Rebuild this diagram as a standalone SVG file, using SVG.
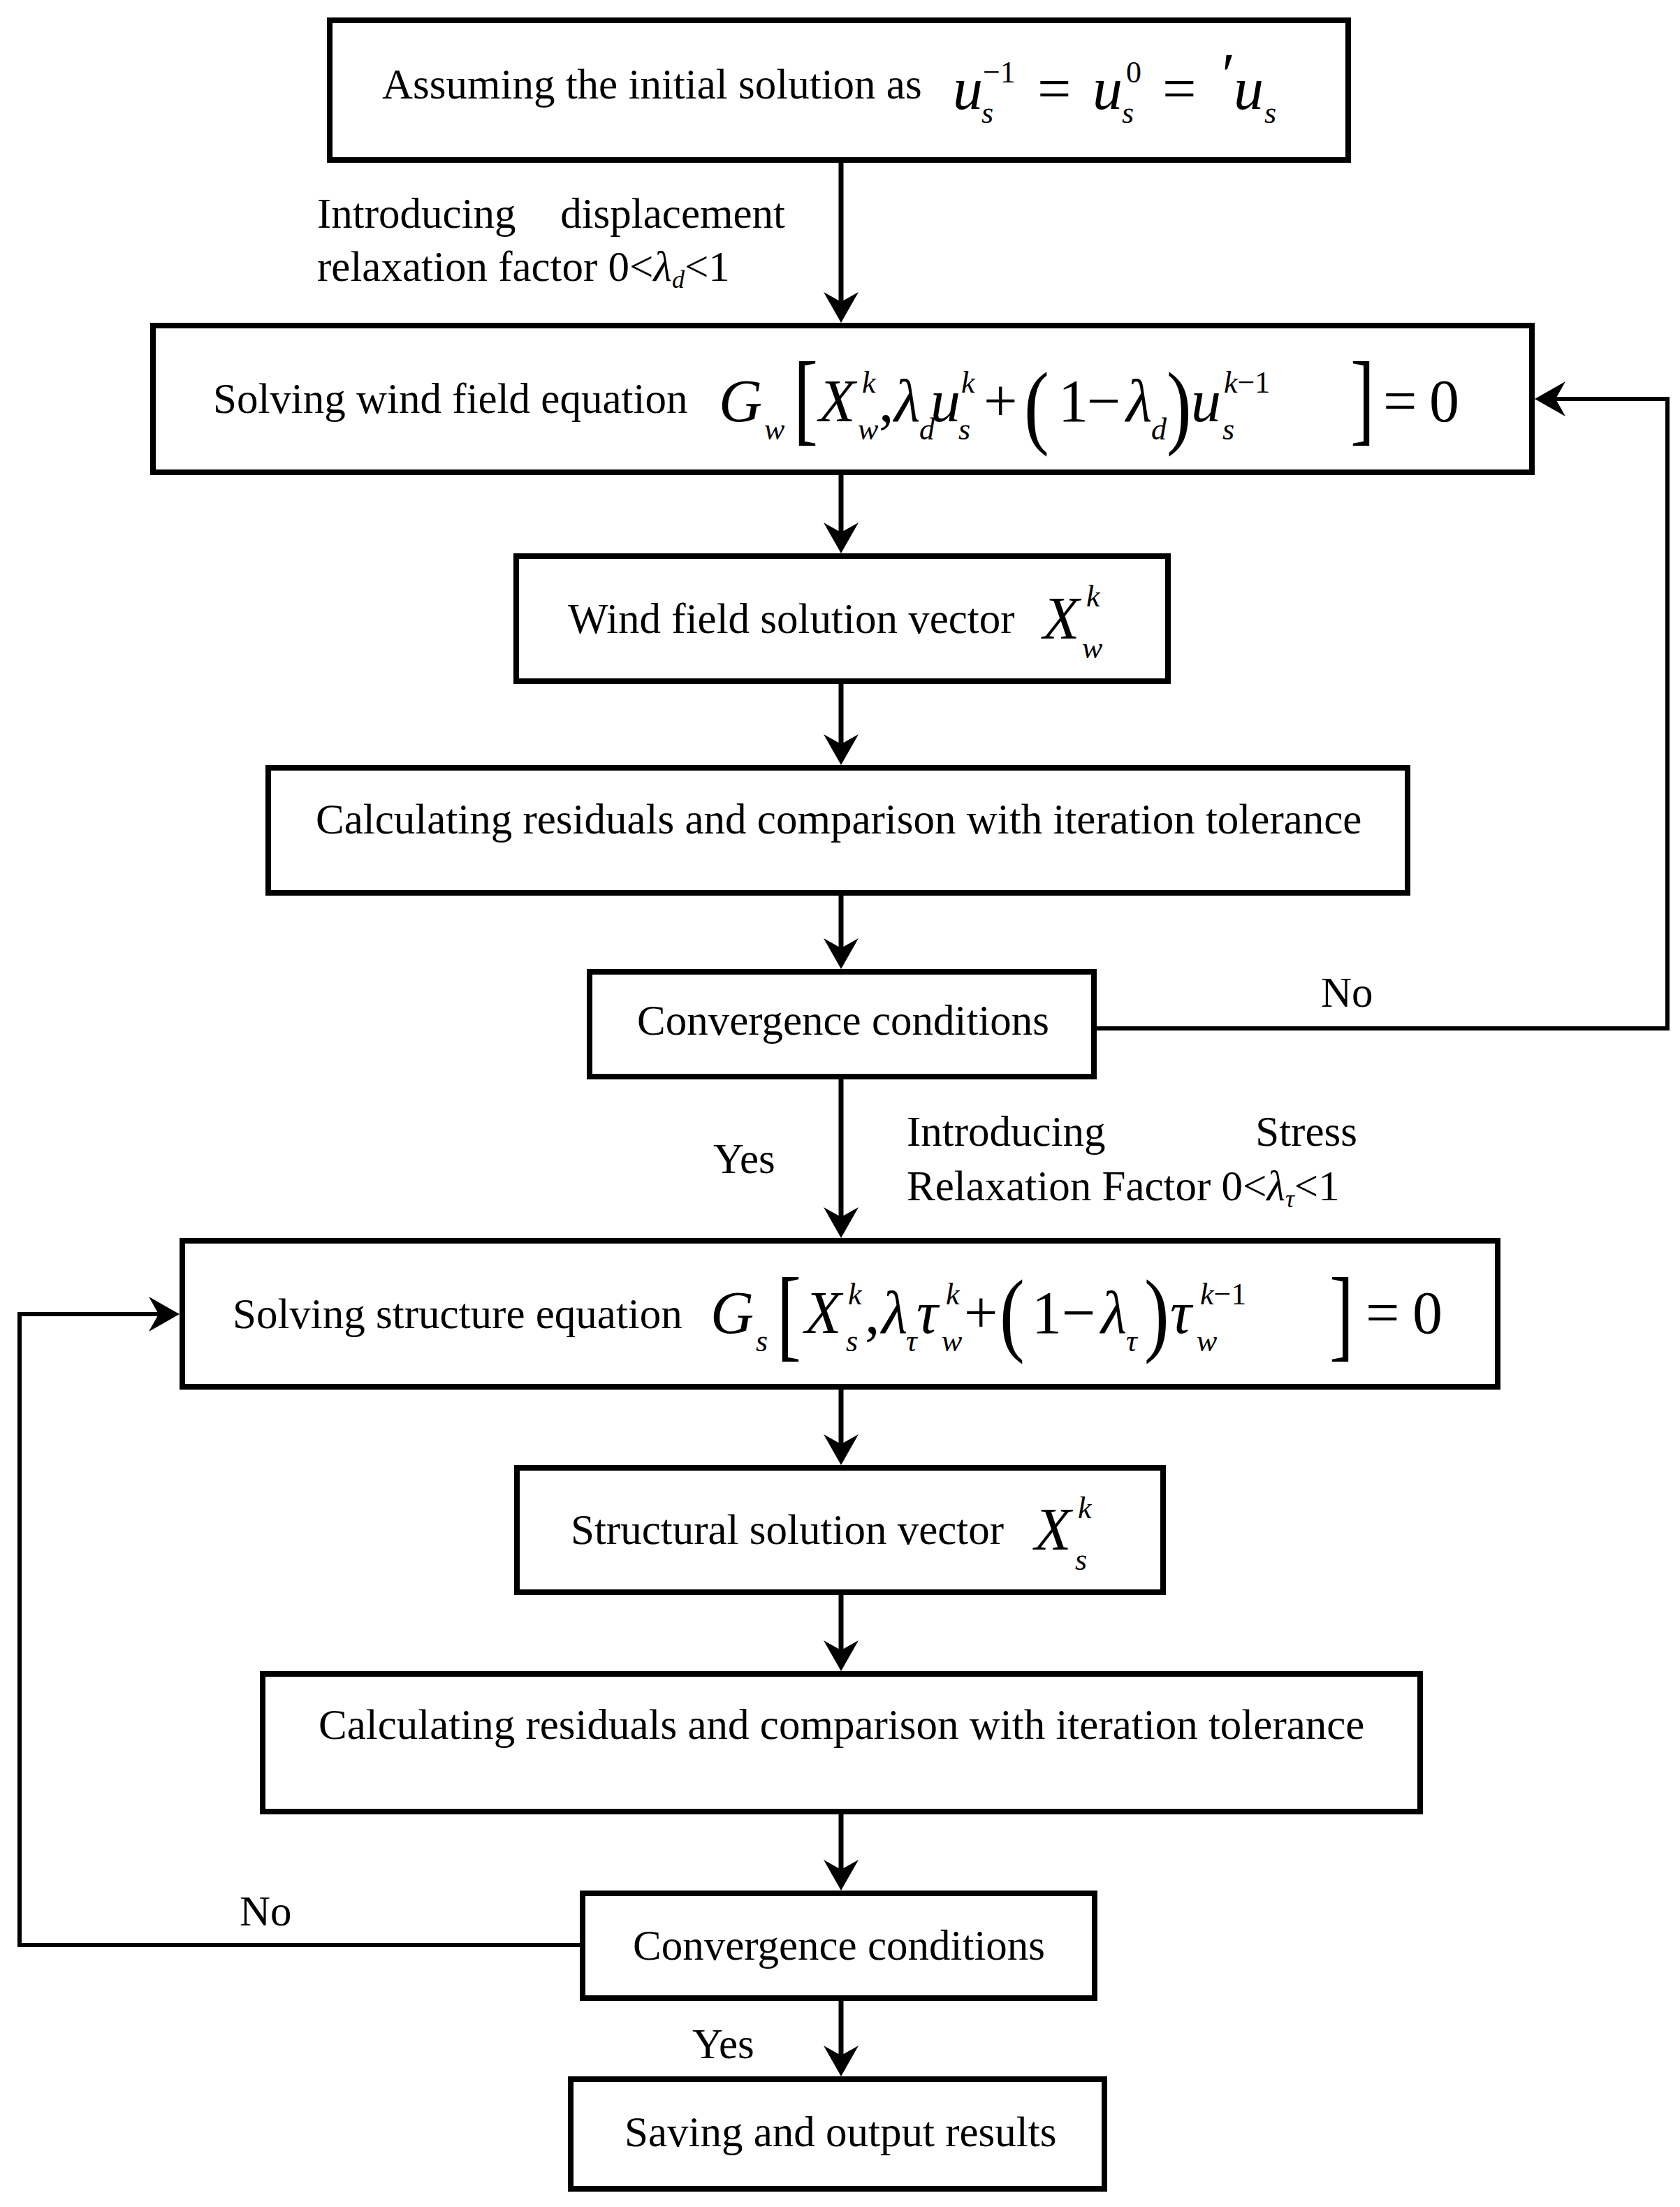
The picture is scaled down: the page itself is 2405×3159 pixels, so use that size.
<svg xmlns="http://www.w3.org/2000/svg" width="2405" height="3159" viewBox="0 0 2405 3159">
<style>
.box{fill:#fff;stroke:#000;stroke-width:8}
.t{font-family:"Liberation Serif","Times New Roman",serif;font-size:61px;fill:#000}
.m{font-family:"Liberation Serif","Times New Roman",serif;font-size:86px;font-style:italic;fill:#000}
.mu{font-family:"Liberation Serif","Times New Roman",serif;font-size:86px;fill:#000}
.s{font-family:"Liberation Serif","Times New Roman",serif;font-size:44px;font-style:italic;fill:#000}
.su{font-family:"Liberation Serif","Times New Roman",serif;font-size:44px;fill:#000}
.br{font-family:"Liberation Serif","Times New Roman",serif;font-size:146px;fill:#000}
.pa{font-family:"Liberation Serif","Times New Roman",serif;font-size:134px;fill:#000}
.ln{fill:none;stroke:#000;stroke-width:7}
.lp{fill:none;stroke:#000;stroke-width:6}
</style>
<defs>
<marker id="ah" markerUnits="userSpaceOnUse" markerWidth="60" markerHeight="60" viewBox="-30 -30 60 60" refX="0" refY="0" orient="auto" overflow="visible">
<path d="M20,0 L-24,-25 L-10,0 L-24,25 Z" fill="#000"/>
</marker>
</defs>

<g id="connectors">
<path class="ln" d="M1204,232 V442" marker-end="url(#ah)"/>
<path class="ln" d="M1204,680 V772" marker-end="url(#ah)"/>
<path class="ln" d="M1204,979 V1075" marker-end="url(#ah)"/>
<path class="ln" d="M1204,1282 V1367" marker-end="url(#ah)"/>
<path class="ln" d="M1204,1545 V1752" marker-end="url(#ah)"/>
<path class="ln" d="M1204,1989 V2077" marker-end="url(#ah)"/>
<path class="ln" d="M1204,2283 V2372" marker-end="url(#ah)"/>
<path class="ln" d="M1204,2597 V2686" marker-end="url(#ah)"/>
<path class="ln" d="M1204,2864 V2952" marker-end="url(#ah)"/>
<path class="lp" d="M1570,1472 H2387 V571 H2217" marker-end="url(#ah)"/>
<path class="lp" d="M830,2784 H28 V1881 H237" marker-end="url(#ah)"/>
<text class="t" x="454" y="326">Introducing</text>
<text class="t" x="1124" y="326" text-anchor="end">displacement</text>
<text class="t" x="454" y="402">relaxation factor 0&lt;<tspan font-style="italic">λ</tspan><tspan font-style="italic" font-size="36" dy="10">d</tspan><tspan dy="-10">&lt;1</tspan></text>
<text class="t" x="1891" y="1441">No</text>
<text class="t" x="1021" y="1679">Yes</text>
<text class="t" x="1298" y="1640">Introducing</text>
<text class="t" x="1943" y="1640" text-anchor="end">Stress</text>
<text class="t" x="1298" y="1718">Relaxation Factor 0&lt;<tspan font-style="italic">λ</tspan><tspan font-style="italic" font-size="36" dy="10">τ</tspan><tspan dy="-10">&lt;1</tspan></text>
<text class="t" x="343" y="2756">No</text>
<text class="t" x="991" y="2946">Yes</text>
</g>

<g id="n1">
<rect class="box" x="472" y="29" width="1458" height="200"/>
<text class="t" x="547" y="141">Assuming the initial solution as</text>
<text class="m" x="1364" y="156" font-size="82">u</text>
<text class="su" x="1407" y="118" font-size="42">−1</text>
<text class="s" x="1405" y="176" font-size="38">s</text>
<text class="mu" x="1485" y="156" font-size="80">=</text>
<text class="m" x="1564" y="156" font-size="82">u</text>
<text class="su" x="1612" y="118" font-size="42">0</text>
<text class="s" x="1606" y="176" font-size="38">s</text>
<text class="mu" x="1664" y="156" font-size="80">=</text>
<text class="m" x="1744" y="136" font-size="60">′</text>
<text class="m" x="1766" y="156" font-size="82">u</text>
<text class="s" x="1810" y="176" font-size="38">s</text>
</g>

<g id="n2">
<rect class="box" x="219" y="466" width="1974" height="210"/>
<text class="t" x="305" y="591">Solving wind field equation</text>
<text class="m" x="1029" y="603">G</text>
<text class="s" x="1094" y="629">w</text>
<text class="br" transform="translate(1136,618) scale(0.72,1)">[</text>
<text class="m" x="1172" y="603">X</text>
<text class="s" x="1234" y="562">k</text>
<text class="s" x="1228" y="629">w</text>
<text class="mu" x="1258" y="603">,</text>
<text class="m" x="1280" y="603">λ</text>
<text class="s" x="1316" y="629">d</text>
<text class="m" x="1332" y="603">u</text>
<text class="s" x="1376" y="562">k</text>
<text class="s" x="1372" y="629">s</text>
<text class="mu" x="1408" y="603">+</text>
<text class="pa" transform="translate(1466,625) scale(0.8,1)">(</text>
<text class="mu" x="1515" y="603">1</text>
<text class="mu" x="1556" y="603">−</text>
<text class="m" x="1612" y="603">λ</text>
<text class="s" x="1648" y="629">d</text>
<text class="pa" transform="translate(1670,625) scale(0.8,1)">)</text>
<text class="m" x="1705" y="603">u</text>
<text class="su" x="1752" y="562"><tspan font-style="italic">k</tspan>−1</text>
<text class="s" x="1750" y="629">s</text>
<text class="br" transform="translate(1933,618) scale(0.72,1)">]</text>
<text class="mu" x="1980" y="603">=</text>
<text class="mu" x="2046" y="603">0</text>
</g>

<g id="n3">
<rect class="box" x="739" y="796" width="933" height="179"/>
<text class="t" x="813" y="906">Wind field solution vector</text>
<text class="m" x="1493" y="914">X</text>
<text class="s" x="1555" y="868">k</text>
<text class="s" x="1549" y="942">w</text>
</g>

<g id="n4">
<rect class="box" x="384" y="1099" width="1631" height="179"/>
<text class="t" x="452" y="1193">Calculating residuals and comparison with iteration tolerance</text>
</g>

<g id="n5">
<rect class="box" x="844" y="1391" width="722" height="150"/>
<text class="t" x="912" y="1481">Convergence conditions</text>
</g>

<g id="n6">
<rect class="box" x="261" y="1776" width="1883" height="209"/>
<text class="t" x="333" y="1901">Solving structure equation</text>
<text class="m" x="1017" y="1908">G</text>
<text class="s" x="1082" y="1934">s</text>
<text class="br" transform="translate(1112,1929) scale(0.72,1)">[</text>
<text class="m" x="1152" y="1908">X</text>
<text class="s" x="1214" y="1867">k</text>
<text class="s" x="1211" y="1934">s</text>
<text class="mu" x="1238" y="1908">,</text>
<text class="m" x="1262" y="1908">λ</text>
<text class="s" x="1297" y="1934">τ</text>
<text class="m" x="1312" y="1908">τ</text>
<text class="s" x="1354" y="1867">k</text>
<text class="s" x="1348" y="1934">w</text>
<text class="mu" x="1380" y="1908">+</text>
<text class="pa" transform="translate(1431,1924) scale(0.8,1)">(</text>
<text class="mu" x="1477" y="1908">1</text>
<text class="mu" x="1520" y="1908">−</text>
<text class="m" x="1576" y="1908">λ</text>
<text class="s" x="1612" y="1934">τ</text>
<text class="pa" transform="translate(1638,1924) scale(0.8,1)">)</text>
<text class="m" x="1675" y="1908">τ</text>
<text class="su" x="1718" y="1867"><tspan font-style="italic">k</tspan>−1</text>
<text class="s" x="1713" y="1934">w</text>
<text class="br" transform="translate(1903,1929) scale(0.72,1)">]</text>
<text class="mu" x="1955" y="1908">=</text>
<text class="mu" x="2022" y="1908">0</text>
</g>

<g id="n7">
<rect class="box" x="740" y="2101" width="925" height="178"/>
<text class="t" x="817" y="2210">Structural solution vector</text>
<text class="m" x="1481" y="2218">X</text>
<text class="s" x="1543" y="2173">k</text>
<text class="s" x="1539" y="2247">s</text>
</g>

<g id="n8">
<rect class="box" x="376" y="2396" width="1657" height="197"/>
<text class="t" x="456" y="2489">Calculating residuals and comparison with iteration tolerance</text>
</g>

<g id="n9">
<rect class="box" x="834" y="2710" width="733" height="150"/>
<text class="t" x="906" y="2805">Convergence conditions</text>
</g>

<g id="n10">
<rect class="box" x="817" y="2976" width="764" height="157"/>
<text class="t" x="894" y="3072">Saving and output results</text>
</g>
</svg>
